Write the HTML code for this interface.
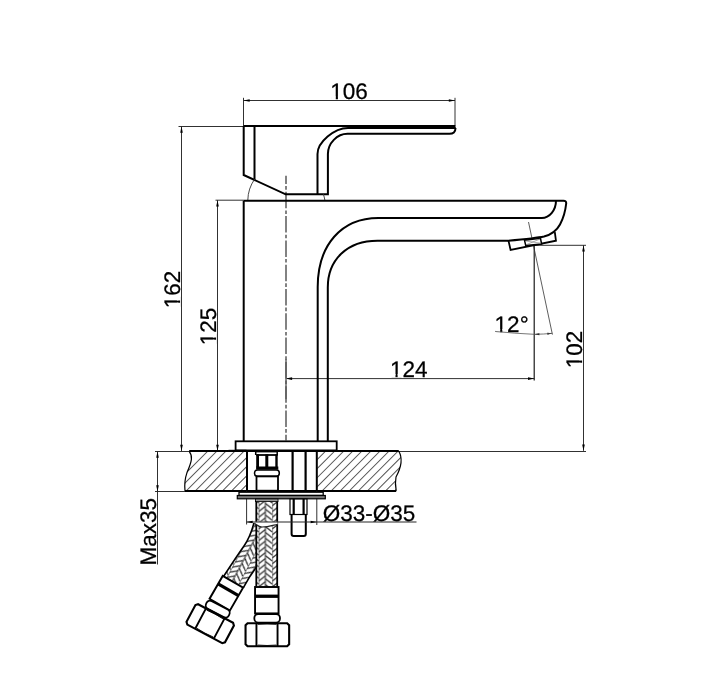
<!DOCTYPE html>
<html><head><meta charset="utf-8"><style>html,body{margin:0;padding:0;background:#fff;}svg{display:block;will-change:transform;}text{font-family:"Liberation Sans",sans-serif;fill:#000;stroke:#000;stroke-width:0.25px;text-rendering:geometricPrecision;}</style></head>
<body><svg width="704" height="698" viewBox="0 0 704 698" font-family="Liberation Sans, sans-serif">
<rect width="704" height="698" fill="#fff"/>
<line x1="243.5" y1="97.8" x2="243.5" y2="126" stroke="#262626" stroke-width="0.95" />
<line x1="455" y1="97.8" x2="455" y2="125.5" stroke="#333" stroke-width="1.0" />
<line x1="243.5" y1="100.5" x2="455" y2="100.5" stroke="#262626" stroke-width="0.95" />
<polygon points="243.50,100.50 249.70,99.20 249.70,101.80" fill="#000"/>
<polygon points="455.00,100.50 448.80,101.80 448.80,99.20" fill="#000"/>
<text transform="translate(330.2,99.4)" font-size="22.5">106</text>
<path transform="translate(330.2,99.4)" d="M0.95,-3.00 H5.57 V0.55 H0.95 Z M7.73,-3.00 H12.18 V0.55 H7.73 Z" fill="#fff"/>
<line x1="178.5" y1="126.5" x2="243.5" y2="126.5" stroke="#262626" stroke-width="0.95" />
<line x1="181.5" y1="126.5" x2="181.5" y2="451" stroke="#262626" stroke-width="0.95" />
<polygon points="181.50,126.50 182.80,132.70 180.20,132.70" fill="#000"/>
<polygon points="181.50,451.00 180.20,444.80 182.80,444.80" fill="#000"/>
<text transform="translate(179.9,308.3) rotate(-90)" font-size="22.5">162</text>
<path transform="translate(179.9,308.3) rotate(-90)" d="M0.95,-3.00 H5.57 V0.55 H0.95 Z M7.73,-3.00 H12.18 V0.55 H7.73 Z" fill="#fff"/>
<line x1="215.5" y1="200.2" x2="243.7" y2="200.2" stroke="#262626" stroke-width="0.95" />
<line x1="217.5" y1="200.2" x2="217.5" y2="451" stroke="#262626" stroke-width="0.95" />
<polygon points="217.50,200.20 218.80,206.40 216.20,206.40" fill="#000"/>
<polygon points="217.50,451.00 216.20,444.80 218.80,444.80" fill="#000"/>
<text transform="translate(215.9,345.2) rotate(-90)" font-size="22.5">125</text>
<path transform="translate(215.9,345.2) rotate(-90)" d="M0.95,-3.00 H5.57 V0.55 H0.95 Z M7.73,-3.00 H12.18 V0.55 H7.73 Z" fill="#fff"/>
<line x1="534" y1="245.3" x2="586" y2="245.3" stroke="#262626" stroke-width="0.95" />
<line x1="583.5" y1="245.3" x2="583.5" y2="450.8" stroke="#262626" stroke-width="0.95" />
<polygon points="583.50,245.30 584.80,251.50 582.20,251.50" fill="#000"/>
<polygon points="583.50,450.80 582.20,444.60 584.80,444.60" fill="#000"/>
<text transform="translate(582.4,368.2) rotate(-90)" font-size="22.5">102</text>
<path transform="translate(582.4,368.2) rotate(-90)" d="M0.95,-3.00 H5.57 V0.55 H0.95 Z M7.73,-3.00 H12.18 V0.55 H7.73 Z" fill="#fff"/>
<line x1="285.9" y1="378.6" x2="534.2" y2="378.6" stroke="#262626" stroke-width="0.95" />
<polygon points="285.90,378.60 292.10,377.30 292.10,379.90" fill="#000"/>
<polygon points="534.20,378.60 528.00,379.90 528.00,377.30" fill="#000"/>
<text transform="translate(389.9,376.9)" font-size="22.5">124</text>
<path transform="translate(389.9,376.9)" d="M0.95,-3.00 H5.57 V0.55 H0.95 Z M7.73,-3.00 H12.18 V0.55 H7.73 Z" fill="#fff"/>
<line x1="534.2" y1="245.5" x2="534.2" y2="380.5" stroke="#111" stroke-width="1.15" />
<line x1="286.0" y1="359" x2="286.0" y2="399" stroke="#666" stroke-width="1.5" />
<line x1="528.5" y1="222" x2="552.4338688440445" y2="334.6" stroke="#333" stroke-width="0.8" />
<polygon points="534.40,334.30 539.40,333.30 539.40,335.30" fill="#000"/>
<polygon points="552.30,333.30 547.42,334.79 547.23,332.80" fill="#000"/>
<text transform="translate(494.6,332.1)" font-size="22.5">12°</text>
<path transform="translate(494.6,332.1)" d="M0.95,-3.00 H5.57 V0.55 H0.95 Z M7.73,-3.00 H12.18 V0.55 H7.73 Z" fill="#fff"/>
<path d="M495,331.4 Q515,333.5 534.2,334.3 Q544,334.2 552.3,333.3" stroke="#555" stroke-width="0.8" fill="none" />
<line x1="286.0" y1="175.7" x2="286.0" y2="440.5" stroke="#5a5a5a" stroke-width="1.5" stroke-dasharray="16.5 2.1 3.6 2.1" stroke-dashoffset="8.2"/>
<path d="M243.7,126 H455.5" stroke="#000" stroke-width="2.0" fill="none" />
<path d="M243.7,126 V175 L285.7,194.3 H327.9 V154 C327.9,143.3 337.1,133.8 347.5,133.8 H449 Q455.5,134 455.5,128" stroke="#000" stroke-width="2.0" fill="none" />
<path d="M254.5,126 V180" stroke="#000" stroke-width="2.0" fill="none" />
<path d="M317.5,194.3 V154 C317.5,142.2 334.3,128 348,128 H455.8" stroke="#000" stroke-width="2.0" fill="none" />
<path d="M254.7,179 A38.3,38.3 0 0 0 247.8,200.2" stroke="#333" stroke-width="0.9" fill="none" />
<path d="M323.3,194 A38.3,38.3 0 0 1 324.9,200.2" stroke="#333" stroke-width="0.9" fill="none" />
<path d="M243.7,200.6 V441.3" stroke="#000" stroke-width="2.0" fill="none" />
<path d="M243.7,200.7 H563.5 Q566.4,200.7 566.2,203.5 C565.5,210 563.5,218 560,224.5 C557,230 552,234.5 544,236.5 C537,238 525,239.2 508,240.8 H377.7 C347.6,240.7 327.8,259.4 327.8,287.4 V441.3" stroke="#000" stroke-width="2.0" fill="none" />
<path d="M317.7,441.3 V287 C317.7,245 341.4,218 378.4,218 H541.8 C549.6,218 556,210.2 556,200.6" stroke="#000" stroke-width="2.0" fill="none" />
<g transform="translate(510.6,250) rotate(-11.6)">
<path d="M-0.2,-9.4 L0,0 L46.3,0 L46.9,-8.6" fill="none" stroke="#000" stroke-width="1.8"/>
</g>
<path d="M524.5,240.2 L540.5,238.3 L541.6,244 L525.7,245.5 Z" fill="#fff" stroke="#000" stroke-width="1.5"/>
<path d="M525.5,241 L540.8,243.2 M540,239 L526,244.8" stroke="#777" stroke-width="0.6"/>
<defs><clipPath id="ct"><path d="M189.2,451.3 C193,456 192,461 187,472.6 C184,481 184.5,486 185,490.9 H246.5 V451.3 Z M317.2,451.3 H398.8 C403,458.5 402,466 396,477 C394.8,483 395.5,487 396.2,490.9 H317.2 Z"/></clipPath></defs>
<path clip-path="url(#ct)" d="M167.98000000000002,491 L207.98000000000002,451 M177.04000000000008,491 L217.04000000000008,451 M186.10000000000002,491 L226.10000000000002,451 M195.15999999999997,491 L235.15999999999997,451 M204.22000000000003,491 L244.22000000000003,451 M213.27999999999997,491 L253.27999999999997,451 M222.34000000000003,491 L262.34000000000003,451 M231.39999999999998,491 L271.4,451 M240.46000000000004,491 L280.46000000000004,451 M249.51999999999998,491 L289.52,451 M258.58000000000004,491 L298.58000000000004,451 M267.64,491 L307.64,451 M276.70000000000005,491 L316.70000000000005,451 M285.76,491 L325.76,451 M294.82000000000005,491 L334.82000000000005,451 M303.88,491 L343.88,451 M312.94000000000005,491 L352.94000000000005,451 M322.0,491 L362.0,451 M331.06000000000006,491 L371.06000000000006,451 M340.12,491 L380.12,451 M349.18000000000006,491 L389.18000000000006,451 M358.24,491 L398.24,451 M367.30000000000007,491 L407.30000000000007,451 M376.36,491 L416.36,451 M385.4200000000001,491 L425.4200000000001,451 M394.48,491 L434.48,451 M403.53999999999996,491 L443.53999999999996,451 M412.6,491 L452.6,451 M421.6600000000001,491 L461.6600000000001,451 M430.72,491 L470.72,451 M439.78,491 L479.78,451 M448.84000000000003,491 L488.84000000000003,451 M457.9000000000001,491 L497.9000000000001,451 M466.96000000000004,491 L506.96000000000004,451 M476.02,491 L516.02,451 M485.08000000000004,491 L525.08,451 M494.1400000000001,491 L534.1400000000001,451 M503.20000000000005,491 L543.2,451 M512.26,491 L552.26,451 M521.32,491 L561.32,451 M530.3800000000001,491 L570.3800000000001,451 M539.44,491 L579.44,451" stroke="#555" stroke-width="1.05" fill="none"/>
<line x1="155" y1="451.5" x2="586" y2="451.5" stroke="#262626" stroke-width="0.95" />
<line x1="155" y1="491.5" x2="185" y2="491.5" stroke="#262626" stroke-width="0.95" />
<path d="M189.2,451.0 H398.8" stroke="#000" stroke-width="2.0" fill="none" />
<path d="M185,490.9 H396.2" stroke="#000" stroke-width="2.0" fill="none" />
<path d="M189.2,451.3 C193,456 192,461 187,472.6 C184,481 184.5,486 185,490.9" stroke="#000" stroke-width="1.2" fill="none" />
<path d="M398.8,451.3 C403,458.5 402,466 396,477 C394.8,483 395.5,487 396.2,490.9" stroke="#000" stroke-width="1.2" fill="none" />
<path d="M247.0,451 V491" stroke="#000" stroke-width="2.0" fill="none" />
<path d="M316.8,451 V491" stroke="#000" stroke-width="2.0" fill="none" />
<line x1="246.6" y1="491" x2="246.6" y2="524.5" stroke="#262626" stroke-width="0.95" />
<line x1="316.8" y1="491" x2="316.8" y2="525" stroke="#262626" stroke-width="0.95" />
<line x1="157.5" y1="451.5" x2="157.5" y2="564.5" stroke="#262626" stroke-width="0.95" />
<polygon points="157.50,451.50 158.80,457.70 156.20,457.70" fill="#000"/>
<polygon points="157.50,491.50 156.20,485.30 158.80,485.30" fill="#000"/>
<text transform="translate(156.1,565.5) rotate(-90)" font-size="22.5">Max35</text>
<rect x="235.6" y="441.3" width="101.1" height="9.1" fill="#fff" stroke="#000" stroke-width="1.8"/>
<path d="M228.5,450.8 H246.5" stroke="#000" stroke-width="2.0" fill="none" />
<rect x="239" y="492.2" width="84.2" height="3.2" fill="#fff" stroke="#000" stroke-width="1.3"/>
<rect x="237.3" y="495.5" width="88" height="3.3" fill="#777" stroke="#000" stroke-width="1.2"/>
<path d="M292.6,451 V491" stroke="#000" stroke-width="2.2" fill="none" />
<path d="M305.6,451 V491" stroke="#000" stroke-width="2.2" fill="none" />
<rect x="290" y="499" width="17" height="15.5" fill="#fff" stroke="#000" stroke-width="1.2"/>
<path d="M293.7,499 V514.5 M303.6,499 V514.5" stroke="#000" stroke-width="2.2" fill="none" />
<path d="M291.6,514.5 V534 Q291.6,536 293.6,536 H303.8 Q305.8,536 305.8,534 V514.5" stroke="#000" stroke-width="2.0" fill="none" />
<path d="M255.7,451.8 H277.2" stroke="#000" stroke-width="1.2" fill="none" />
<path d="M255.7,451.8 V455 M277.2,451.8 V455" stroke="#000" stroke-width="1.5" fill="none" />
<path d="M257.6,454.3 V467" stroke="#000" stroke-width="2.8" fill="none" />
<path d="M276.5,454.3 V467" stroke="#000" stroke-width="2.4" fill="none" />
<path d="M256.2,455 H277.7" stroke="#000" stroke-width="1.8" fill="none" />
<path d="M266.8,454.3 V467" stroke="#000" stroke-width="3" fill="none" />
<rect x="256.1" y="466.5" width="22.2" height="3.2" fill="#000"/>
<rect x="254.5" y="470" width="24.8" height="6.2" rx="3" fill="#fff" stroke="#000" stroke-width="1.5"/>
<rect x="256.5" y="476.4" width="21.5" height="14.3" fill="#fff" stroke="#000" stroke-width="1.8"/>
<defs><pattern id="braid" x="258.6" y="500" width="13.6" height="5.8" patternUnits="userSpaceOnUse"><rect width="13.6" height="5.8" fill="#fff"/><path d="M0,-17.40 L6.8,-22.70 M6.8,-14.00 L13.6,-8.70 M0,-11.60 L6.8,-16.90 M6.8,-8.20 L13.6,-2.90 M0,-5.80 L6.8,-11.10 M6.8,-2.40 L13.6,2.90 M0,0.00 L6.8,-5.30 M6.8,3.40 L13.6,8.70 M0,5.80 L6.8,0.50 M6.8,9.20 L13.6,14.50 M0,11.60 L6.8,6.30 M6.8,15.00 L13.6,20.30 M0,17.40 L6.8,12.10 M6.8,20.80 L13.6,26.10 M0,23.20 L6.8,17.90 M6.8,26.60 L13.6,31.90" stroke="#2a2a2a" stroke-width="1.25" fill="none"/><path d="M0,0 V5.8 M6.8,0 V5.8" stroke="#333" stroke-width="1.0"/></pattern><pattern id="braid2" x="240" y="560" width="13.6" height="5.8" patternUnits="userSpaceOnUse" patternTransform="rotate(28)"><rect width="13.6" height="5.8" fill="#fff"/><path d="M0,-17.40 L6.8,-22.70 M6.8,-14.00 L13.6,-8.70 M0,-11.60 L6.8,-16.90 M6.8,-8.20 L13.6,-2.90 M0,-5.80 L6.8,-11.10 M6.8,-2.40 L13.6,2.90 M0,0.00 L6.8,-5.30 M6.8,3.40 L13.6,8.70 M0,5.80 L6.8,0.50 M6.8,9.20 L13.6,14.50 M0,11.60 L6.8,6.30 M6.8,15.00 L13.6,20.30 M0,17.40 L6.8,12.10 M6.8,20.80 L13.6,26.10 M0,23.20 L6.8,17.90 M6.8,26.60 L13.6,31.90" stroke="#2a2a2a" stroke-width="1.25" fill="none"/><path d="M0,0 V5.8 M6.8,0 V5.8" stroke="#333" stroke-width="1.0"/></pattern></defs>
<path d="M256.5,521.5 L254,523 C251.5,532 249,539 244,546 C239,553 233,562 223.5,576.5 L243.4,587.6 C247.5,580 251.5,573.5 256.5,567 Z" fill="url(#braid2)" stroke="none"/>
<path d="M254,523 C251.5,532 249,539 244,546 C239,553 233,562 223.5,576.5" stroke="#000" stroke-width="1.6" fill="none" />
<path d="M243.4,587.6 C247.5,580 251.5,573.5 256.5,567" stroke="#000" stroke-width="1.6" fill="none" />
<rect x="256.3" y="501" width="20.9" height="86" fill="url(#braid)"/>
<path d="M256.3,499.5 V586.5 M277.2,499.5 V586.5" stroke="#000" stroke-width="1.8" fill="none" />
<rect x="255.5" y="499" width="22.5" height="2.6" fill="#999" stroke="#000" stroke-width="0.8"/>
<path d="M254.3,521.8 L277.6,521.8 L277.6,524.2 C272,525.5 268,527 262,527 C258.5,527 256.5,524.5 254.3,523.3 Z" fill="#fff"/>
<path d="M254.3,523.3 C256.5,524.5 258.5,527 262,527 C268,527 272,525.5 277.6,524.2" fill="none" stroke="#222" stroke-width="1.1"/>
<line x1="246.5" y1="522.0" x2="416.5" y2="522.0" stroke="#262626" stroke-width="1.1" />
<polygon points="246.50,522.00 252.70,520.70 252.70,523.30" fill="#000"/>
<polygon points="316.80,522.00 310.60,523.30 310.60,520.70" fill="#000"/>
<text transform="translate(322.8,520.9)" font-size="22.5">Ø33-Ø35</text>
<g transform="translate(267.35,634.7)"><g transform="rotate(0,0,-21)"><rect x="-12.3" y="-47.7" width="23.5" height="26.4" fill="#fff" stroke="#000" stroke-width="1.9"/><rect x="-12.3" y="-40.1" width="23.5" height="3.3" fill="#000"/></g><rect x="-13.0" y="-20.7" width="25.6" height="8.6" rx="3.8" fill="#fff" stroke="#000" stroke-width="1.8"/><path d="M-19.8,-11.5 H19.8 L21.8,-9.5 V9.5 L19.8,11.5 H-19.8 L-21.8,9.5 V-9.5 Z" fill="#fff" stroke="#000" stroke-width="2.1"/><path d="M-10.9,-11.5 V11.5 M10.2,-11.5 V11.5" stroke="#000" stroke-width="1.9"/><path d="M-9.5,-10.3 Q-0.3,-11.3 9,-10.3 M-9.5,10.3 Q-0.3,11.3 9,10.3" stroke="#000" stroke-width="0.8" fill="none"/></g>
<g transform="translate(210.2,623.7) rotate(28)"><g transform="rotate(2,0,-21)"><rect x="-12.3" y="-47.7" width="23.5" height="26.4" fill="#fff" stroke="#000" stroke-width="1.9"/><rect x="-12.3" y="-40.1" width="23.5" height="3.3" fill="#000"/></g><rect x="-13.0" y="-20.7" width="25.6" height="8.6" rx="3.8" fill="#fff" stroke="#000" stroke-width="1.8"/><path d="M-19.8,-11.5 H19.8 L21.8,-9.5 V9.5 L19.8,11.5 H-19.8 L-21.8,9.5 V-9.5 Z" fill="#fff" stroke="#000" stroke-width="2.1"/><path d="M-10.9,-11.5 V11.5 M10.2,-11.5 V11.5" stroke="#000" stroke-width="1.9"/><path d="M-9.5,-10.3 Q-0.3,-11.3 9,-10.3 M-9.5,10.3 Q-0.3,11.3 9,10.3" stroke="#000" stroke-width="0.8" fill="none"/></g>
</svg></body></html>
